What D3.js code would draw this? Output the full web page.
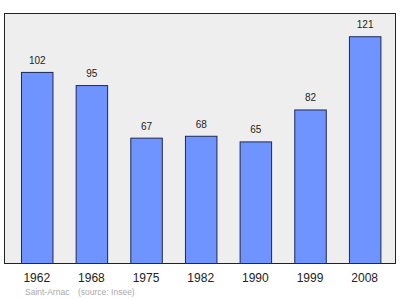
<!DOCTYPE html>
<html><head><meta charset="utf-8">
<script src="https://cdn.jsdelivr.net/npm/d3@7"></script>
<style>body{margin:0;background:#fff}svg{display:block}</style>
</head><body>
<svg id="c" width="400" height="299"></svg>
<script>
const categories = ["1962","1968","1975","1982","1990","1999","2008"];
const values = [102,95,67,68,65,82,121];
const footerName = "Saint-Arnac";
const footerSource = "(source: Insee)";

const svg = d3.select("#c");
const plot = {left:4.5, top:13.5, right:395.5, bottom:263.5};

svg.append("rect").attr("x",plot.left).attr("y",plot.top)
  .attr("width",plot.right-plot.left).attr("height",plot.bottom-plot.top)
  .attr("fill","#eeeeee").attr("stroke","#222").attr("stroke-width",1);

const x = d3.scaleBand().domain(categories).range([9.4,392]).paddingInner(0.424).paddingOuter(0.212);
const y = d3.scaleLinear().domain([0,133.1]).range([plot.bottom,plot.top]);

svg.selectAll("rect.bar").data(values).join("rect").attr("class","bar")
  .attr("x",(d,i)=>x(categories[i])+0.5).attr("width",x.bandwidth())
  .attr("y",d=>y(d)+0.5).attr("height",d=>plot.bottom-y(d)-0.5)
  .attr("fill","#7094ff").attr("stroke","#1a2a55").attr("stroke-width",1);

svg.selectAll("text.val").data(values).join("text").attr("class","val")
  .attr("x",(d,i)=>x(categories[i])+x.bandwidth()/2+0.5).attr("y",d=>y(d)-8)
  .attr("text-anchor","middle").attr("font-family","Liberation Sans, Arial, sans-serif")
  .attr("font-size",10).attr("fill","#222").text(d=>d);

const ax = svg.append("g").attr("transform",`translate(0,${plot.bottom})`)
  .call(d3.axisBottom(x).tickSize(0).tickPadding(10));
ax.select(".domain").remove();
ax.selectAll("text").attr("font-family","Liberation Sans, Arial, sans-serif").attr("font-size",12).attr("fill","#222");

svg.append("text").attr("x",25).attr("y",295).attr("font-family","Liberation Sans, Arial, sans-serif")
  .attr("font-size",8.5).attr("fill","#aaaaaa").text(footerName);
svg.append("text").attr("x",78).attr("y",295).attr("font-family","Liberation Sans, Arial, sans-serif")
  .attr("font-size",8.5).attr("fill","#aaaaaa").text(footerSource);
</script>
</body></html>
